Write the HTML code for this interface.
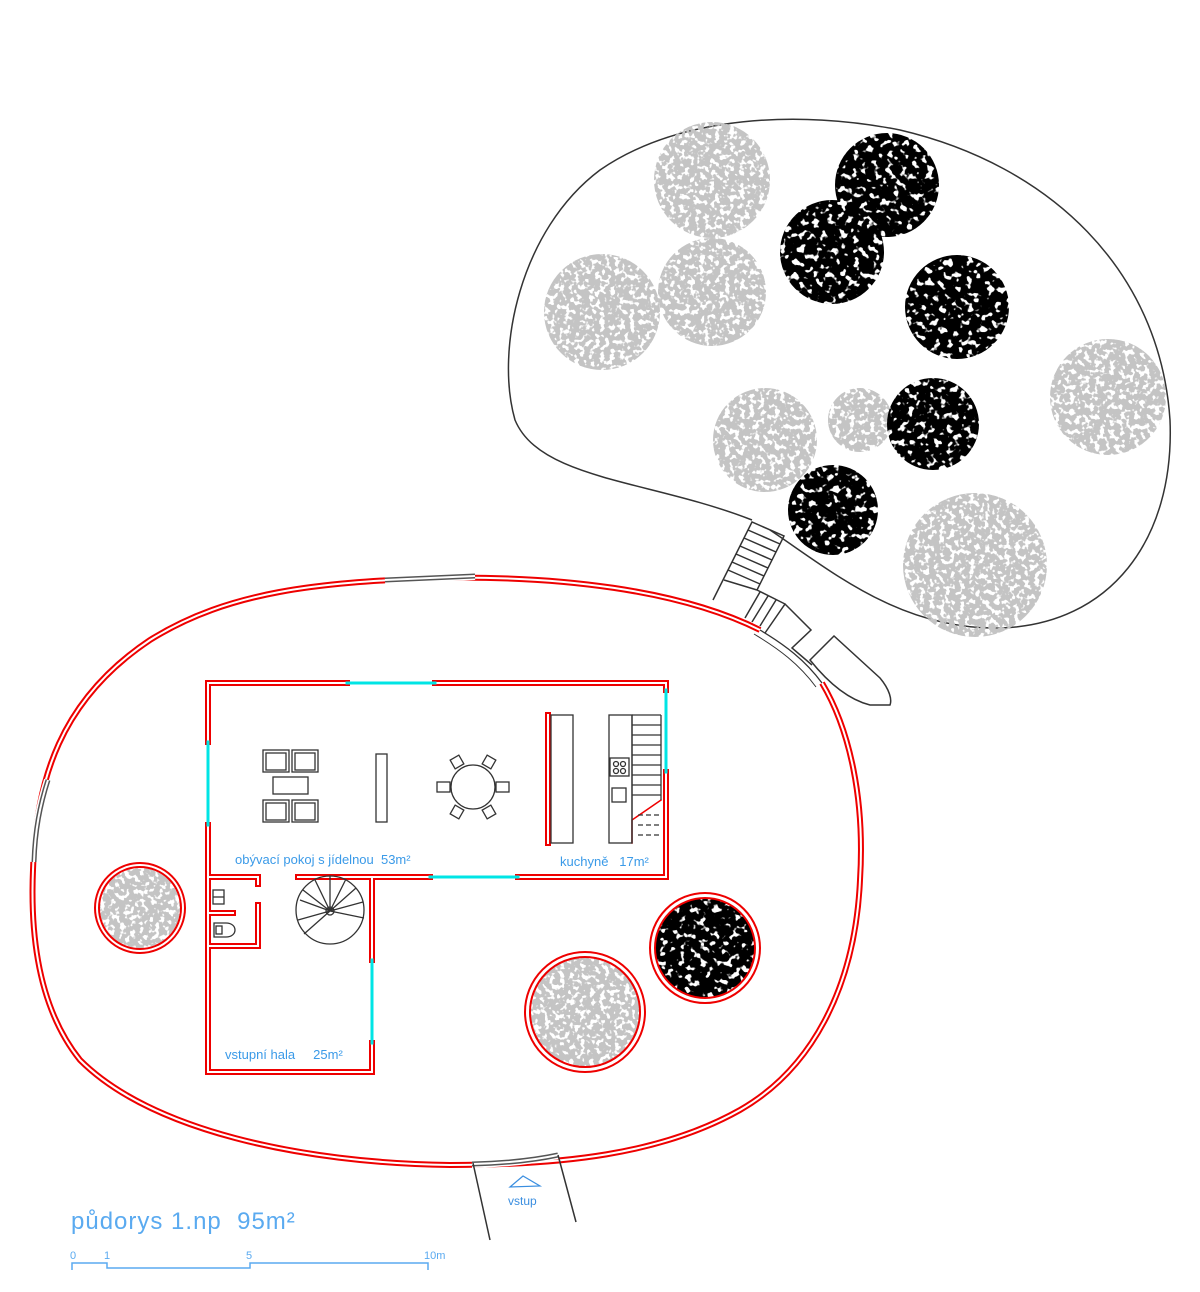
<!DOCTYPE html>
<html><head><meta charset="utf-8"><style>
html,body{margin:0;padding:0;background:#fff;width:1200px;height:1292px;overflow:hidden}
svg{display:block}
text{font-family:"Liberation Sans",sans-serif}
</style></head><body>
<svg width="1200" height="1292" viewBox="0 0 1200 1292" xmlns="http://www.w3.org/2000/svg">
<defs>
<filter id="tg" x="0" y="0" width="100%" height="100%">
<feTurbulence type="fractalNoise" baseFrequency="0.2" numOctaves="2" seed="3" result="n"/>
<feColorMatrix in="n" type="matrix" values="0 0 0 0 0.55  0 0 0 0 0.55  0 0 0 0 0.55  12 0 0 0 -4.6"/>
<feComposite in2="SourceGraphic" operator="in"/>
</filter>
<filter id="tb" x="0" y="0" width="100%" height="100%">
<feTurbulence type="fractalNoise" baseFrequency="0.15" numOctaves="2" seed="7" result="n"/>
<feColorMatrix in="n" type="matrix" values="0 0 0 0 0  0 0 0 0 0  0 0 0 0 0  12 0 0 0 -4.2"/>
<feComposite in2="SourceGraphic" operator="in"/>
</filter>
</defs>

<!-- garden island -->
<path d="M 752,520 C 650,480 540,480 515,420 C 495,350 520,230 600,170 C 680,115 800,110 900,130 C 1050,165 1160,270 1170,420 C 1175,540 1110,625 1000,628 C 900,630 830,570 770,530" fill="none" stroke="#333" stroke-width="1.5"/>

<!-- gray trees -->
<g filter="url(#tg)" fill="#000">
<circle cx="712" cy="180" r="58"/>
<circle cx="602" cy="312" r="58"/>
<circle cx="712" cy="292" r="54"/>
<circle cx="765" cy="440" r="52"/>
<circle cx="860" cy="420" r="32"/>
<circle cx="1108" cy="397" r="58"/>
<circle cx="975" cy="565" r="72"/>
<circle cx="140" cy="908" r="40"/>
<circle cx="585" cy="1012" r="56"/>
</g>
<g filter="url(#tb)" fill="#000">
<circle cx="887" cy="185" r="52"/>
<circle cx="832" cy="252" r="52"/>
<circle cx="957" cy="307" r="52"/>
<circle cx="933" cy="424" r="46"/>
<circle cx="833" cy="510" r="45"/>
<circle cx="705" cy="948" r="50"/>
</g>

<!-- stairs between -->
<g fill="none" stroke="#333" stroke-width="1.5">
<path d="M713,600 L752,522 L784,536 L757,590"/>
<path d="M748,530 L780,544 M744,538 L776,552 M740,546 L772,560 M736,554 L768,568 M732,562 L764,576 M728,570 L760,584 M724,580 L757,590"/>
<path d="M757,590 L785,604 L765,633 M785,604 L811,630 L792,648 L812,665"/>
<path d="M745,618 L760,592 M752,622 L768,596 M760,626 L776,600"/>
<path d="M810,660 L834,636 L880,678 C890,690 892,700 890,705 L870,705 C850,700 830,685 810,660 Z"/>
</g>

<!-- outer house wall -->
<path d="M 822,683 C 850,730 865,800 860,880 C 855,990 810,1070 740,1110 C 660,1155 560,1165 450,1165 C 300,1163 150,1130 80,1060 C 40,1010 30,940 33,870 C 36,780 60,700 150,640 C 230,590 320,583 430,578 C 560,575 680,590 760,630" fill="none" stroke="#e00" stroke-width="6"/>
<path d="M 822,683 C 850,730 865,800 860,880 C 855,990 810,1070 740,1110 C 660,1155 560,1165 450,1165 C 300,1163 150,1130 80,1060 C 40,1010 30,940 33,870 C 36,780 60,700 150,640 C 230,590 320,583 430,578 C 560,575 680,590 760,630" fill="none" stroke="#fff" stroke-width="2"/>
<!-- gray segments -->
<g fill="none">
<path d="M385,580 L475,576" stroke="#fff" stroke-width="8"/>
<path d="M385,580 L475,576" stroke="#555" stroke-width="5"/>
<path d="M385,580 L475,576" stroke="#fff" stroke-width="2"/>
<path d="M34,862 C35,830 40,805 48,780" stroke="#fff" stroke-width="8"/>
<path d="M34,862 C35,830 40,805 48,780" stroke="#555" stroke-width="5"/>
<path d="M34,862 C35,830 40,805 48,780" stroke="#fff" stroke-width="2"/>
<path d="M472,1164 C510,1163 535,1160 558,1155" stroke="#fff" stroke-width="8"/>
<path d="M472,1164 C510,1163 535,1160 558,1155" stroke="#555" stroke-width="5"/>
<path d="M472,1164 C510,1163 535,1160 558,1155" stroke="#fff" stroke-width="2"/>
<path d="M760,630 C785,645 805,660 822,683" stroke="#333" stroke-width="1.3"/>
<path d="M760,630 C785,645 805,660 822,683" stroke="#333" stroke-width="1" transform="translate(-6,4)"/>
</g>
<!-- entry path -->
<g stroke="#333" stroke-width="1.5">
<line x1="473" y1="1163" x2="490" y2="1240"/>
<line x1="558" y1="1155" x2="576" y2="1222"/>
</g>
<path d="M510,1187 L523,1176 L540,1186 Z" fill="none" stroke="#3a8ee0" stroke-width="1.2"/>
<text x="508" y="1205" font-size="12" fill="#3a8ee0">vstup</text>

<!-- interior walls -->
<g fill="none" stroke-linecap="square">
<g stroke="#e00" stroke-width="6">
<path d="M347,683 L208,683 L208,742"/>
<path d="M435,683 L666,683 L666,690"/>
<path d="M208,825 L208,1072 L372,1072 L372,1043"/>
<path d="M666,772 L666,877 L518,877"/>
<path d="M430,877 L298,877"/>
<path d="M208,877 L258,877 L258,884"/>
<path d="M372,877 L372,960"/>
<path d="M258,905 L258,946 L208,946"/>
<path d="M208,913 L233,913"/>
<path d="M548,715 L548,843"/>
</g>
<g stroke="#fff" stroke-width="2">
<path d="M347,683 L208,683 L208,742"/>
<path d="M435,683 L666,683 L666,690"/>
<path d="M208,825 L208,1072 L372,1072 L372,1043"/>
<path d="M666,772 L666,877 L518,877"/>
<path d="M430,877 L298,877"/>
<path d="M208,877 L258,877 L258,884"/>
<path d="M372,877 L372,960"/>
<path d="M258,905 L258,946 L208,946"/>
<path d="M208,913 L233,913"/>
<path d="M548,715 L548,843"/>
</g>
<path d="M632,843 L632,820 L661,800" stroke="#e00" stroke-width="1.5"/>
<g stroke="#00e5e5" stroke-width="3">
<line x1="347" y1="683" x2="435" y2="683"/>
<line x1="208" y1="742" x2="208" y2="825"/>
<line x1="666" y1="690" x2="666" y2="772"/>
<line x1="430" y1="877" x2="518" y2="877"/>
<line x1="372" y1="960" x2="372" y2="1043"/>
</g>
</g>

<!-- furniture -->
<g fill="none" stroke="#333" stroke-width="1.3">
<rect x="263" y="750" width="26" height="22"/><rect x="266" y="753" width="20" height="17"/>
<rect x="292" y="750" width="26" height="22"/><rect x="295" y="753" width="20" height="17"/>
<rect x="273" y="777" width="35" height="17"/>
<rect x="263" y="800" width="26" height="22"/><rect x="266" y="803" width="20" height="17"/>
<rect x="292" y="800" width="26" height="22"/><rect x="295" y="803" width="20" height="17"/>
<rect x="376" y="754" width="11" height="68"/>
<circle cx="473" cy="787" r="22"/>
<rect x="437" y="782" width="13" height="10"/><rect x="496" y="782" width="13" height="10"/>
<rect x="452" y="757" width="10" height="10" transform="rotate(-30 457 762)"/>
<rect x="484" y="757" width="10" height="10" transform="rotate(30 489 762)"/>
<rect x="452" y="807" width="10" height="10" transform="rotate(30 457 812)"/>
<rect x="484" y="807" width="10" height="10" transform="rotate(-30 489 812)"/>
<rect x="551" y="715" width="22" height="128"/>
<rect x="609" y="715" width="23" height="128"/>
<rect x="610" y="758" width="19" height="18"/>
<circle cx="616" cy="764" r="2.5"/><circle cx="623" cy="764" r="2.5"/><circle cx="616" cy="771" r="2.5"/><circle cx="623" cy="771" r="2.5"/>
<rect x="612" y="788" width="14" height="14"/>
<path d="M632,715 L661,715 M632,725 L661,725 M632,735 L661,735 M632,745 L661,745 M632,755 L661,755 M632,765 L661,765 M632,775 L661,775 M632,785 L661,785 M632,795 L661,795"/>
<path d="M632,715 L632,843 M661,715 L661,800"/>
<path d="M638,815 L661,815 M638,825 L661,825 M638,835 L661,835" stroke-dasharray="5 3"/>
<rect x="213" y="890" width="11" height="14"/>
<line x1="213" y1="897" x2="224" y2="897"/>
<path d="M214,923 L226,923 C238,923 238,937 226,937 L214,937 Z"/>
<rect x="216" y="926" width="6" height="8"/>
<circle cx="330" cy="910" r="34"/>
<circle cx="330" cy="911" r="4"/>
<path d="M330,911 L300,900 M330,911 L303,890 M330,911 L315,880 M330,911 L330,876 M330,911 L346,879 M330,911 L356,888 M330,911 L363,902 M330,911 L364,918 M330,911 L298,920 M330,911 L304,934"/>
</g>

<!-- tree rings in house -->
<g fill="none" stroke="#e00" stroke-width="2">
<circle cx="140" cy="908" r="45"/><circle cx="140" cy="908" r="41"/>
<circle cx="585" cy="1012" r="60"/><circle cx="585" cy="1012" r="55"/>
<circle cx="705" cy="948" r="55"/><circle cx="705" cy="948" r="50"/>
</g>

<!-- labels -->
<g fill="#3a9ae8" font-size="13">
<text x="235" y="864">obývací pokoj s jídelnou&#160; 53m²</text>
<text x="560" y="866">kuchyně&#160;&#160; 17m²</text>
<text x="225" y="1059">vstupní hala&#160;&#160;&#160;&#160; 25m²</text>
</g>
<text x="71" y="1229" font-size="24" fill="#5aaaf0" letter-spacing="1">půdorys 1.np&#160; 95m²</text>
<g stroke="#5aaaf0" stroke-width="1.5" fill="none">
<path d="M72,1270 L72,1263 L107,1263 L107,1268 L250,1268 L250,1263 L428,1263 L428,1270"/>
</g>
<g fill="#5aaaf0" font-size="11">
<text x="70" y="1259">0</text><text x="104" y="1259">1</text><text x="246" y="1259">5</text><text x="424" y="1259">10m</text>
</g>
</svg>
</body></html>
